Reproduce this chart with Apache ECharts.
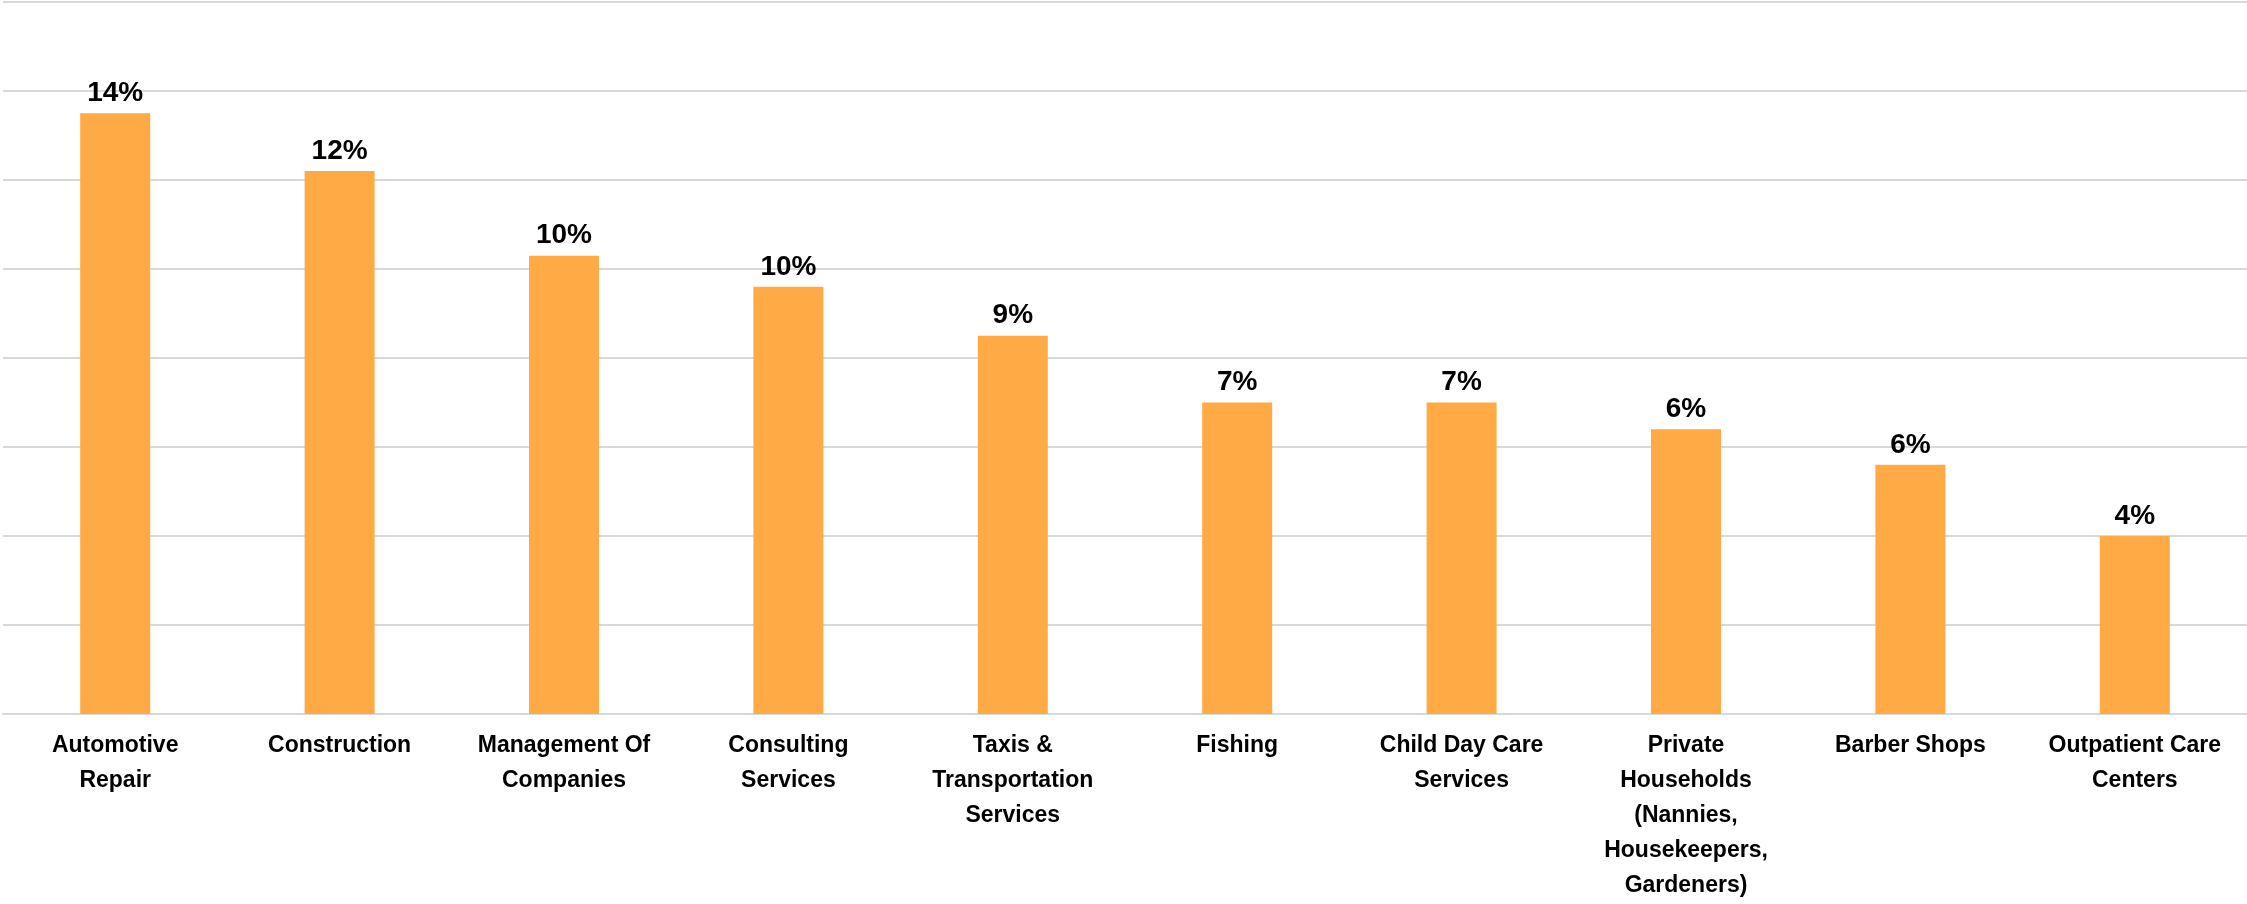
<!DOCTYPE html>
<html>
<head>
<meta charset="utf-8">
<script src="https://cdn.jsdelivr.net/npm/echarts@6/dist/echarts.min.js"></script>
<style>
html,body{margin:0;padding:0;background:#fff;}
#chart{width:2247px;height:904px;}
</style>
</head>
<body>
<div id="chart"></div>
<script>
var categories = [
  "Automotive\nRepair",
  "Construction",
  "Management Of\nCompanies",
  "Consulting\nServices",
  "Taxis &\nTransportation\nServices",
  "Fishing",
  "Child Day Care\nServices",
  "Private\nHouseholds\n(Nannies,\nHousekeepers,\nGardeners)",
  "Barber Shops",
  "Outpatient Care\nCenters"
];
var values = [13.5, 12.2, 10.3, 9.6, 8.5, 7.0, 7.0, 6.4, 5.6, 4.0];
var valueLabels = ["14%", "12%", "10%", "10%", "9%", "7%", "7%", "6%", "6%", "4%"];
var yMin = 0, yMax = 16, yStep = 2;

var chart = echarts.init(document.getElementById('chart'));
chart.setOption({
  animation: false,
  backgroundColor: '#ffffff',
  grid: {left: 3, right: 0, top: 2, bottom: 190, containLabel: false, outerBoundsMode: 'none'},
  xAxis: {
    type: 'category',
    data: categories,
    axisLine: {show: true, lineStyle: {color: '#d9d9d9', width: 2}},
    axisTick: {show: false},
    axisLabel: {
      interval: 0,
      margin: 14,
      color: '#000000',
      fontFamily: '"Liberation Sans", Arial, sans-serif',
      fontWeight: 'bold',
      fontSize: 23,
      lineHeight: 35
    }
  },
  yAxis: {
    type: 'value',
    min: yMin, max: yMax, interval: yStep,
    axisLine: {show: false},
    axisTick: {show: false},
    axisLabel: {show: false},
    splitLine: {show: true, lineStyle: {color: '#d9d9d9', width: 2}}
  },
  series: [{
    type: 'bar',
    data: values,
    barWidth: 70,
    itemStyle: {color: '#FFAA44'},
    label: {
      show: true,
      position: 'top',
      distance: 6,
      color: '#000000',
      fontFamily: '"Liberation Sans", Arial, sans-serif',
      fontWeight: 'bold',
      fontSize: 28,
      formatter: function (p) { return valueLabels[p.dataIndex]; }
    }
  }]
});
</script>
</body>
</html>
